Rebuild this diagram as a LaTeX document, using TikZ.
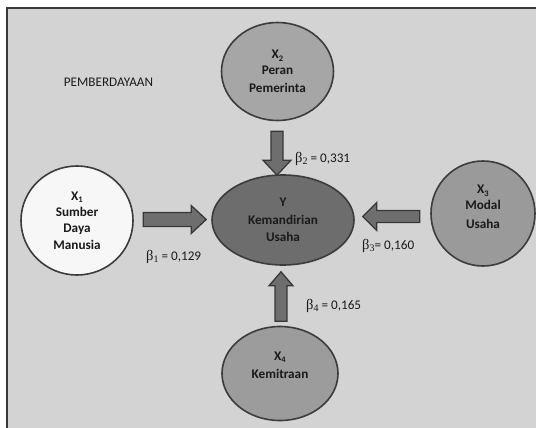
\documentclass[tikz,border=0pt]{standalone}
\usepackage{fontspec}
\setmainfont{Carlito}
\newfontfamily\betafont{Liberation Serif}
\usetikzlibrary{shapes.geometric,calc}
\definecolor{bgc}{HTML}{D3D3D3}
\definecolor{framec}{HTML}{383838}
\definecolor{outl}{HTML}{3C3C3C}
\definecolor{cxa}{HTML}{F7F7F7}
\definecolor{cxb}{HTML}{A6A6A6}
\definecolor{cxc}{HTML}{9A9A9A}
\definecolor{cxd}{HTML}{9C9C9C}
\definecolor{cy}{HTML}{6D6D6D}
\definecolor{arrfill}{HTML}{6E6E6E}
\definecolor{arrline}{HTML}{383838}
\definecolor{txt}{HTML}{1A1A1A}
\newcommand\sbs[1]{\raisebox{-2.5pt}{\fontsize{8.5}{8.5}\selectfont #1}}
\newcommand\betalbl[2]{{\betafont\fontsize{14.5}{15}\selectfont β\raisebox{-2pt}{\fontsize{10}{10}\selectfont #1}}#2}
\tikzset{
  var/.style={ellipse, draw=outl, line width=1.6pt, inner sep=0pt, align=center,
    text=txt, font=\bfseries\fontsize{13.2}{17}\selectfont},
  lbl/.style={inner sep=0pt, text=txt, font=\fontsize{13.2}{15}\selectfont},
  frame/.style={draw=framec, line width=2pt, fill=bgc},
  barrow/.style n args={3}{draw=arrline, fill=arrfill, line width=1.3pt, line join=miter,
    to path={($(\tikztostart)!#1!90:(\tikztotarget)$)
      -- ($($(\tikztotarget)!#3!(\tikztostart)$)!#1!-90:(\tikztostart)$)
      -- ($($(\tikztotarget)!#3!(\tikztostart)$)!#2!-90:(\tikztostart)$)
      -- (\tikztotarget)
      -- ($($(\tikztotarget)!#3!(\tikztostart)$)!#2!90:(\tikztostart)$)
      -- ($($(\tikztotarget)!#3!(\tikztostart)$)!#1!90:(\tikztostart)$)
      -- ($(\tikztostart)!#1!-90:(\tikztotarget)$)
      -- cycle}}
}
\begin{document}
\begin{tikzpicture}[x=1pt,y=-1pt]
\useasboundingbox (0,0) rectangle (536,428);
\begin{scope}
  \clip (0,0) rectangle (536,428);
  \draw[frame] (6.5,8.5) rectangle (560,450);
\end{scope}

\node[lbl] (pem) at (108.5,82) {PEMBERDAYAAN};

\node[var, fill=cxa, minimum width=112, minimum height=109] (x1) at (77,220.5)
  {X\sbs{1}\\[-1pt]Sumber\\[-0.5pt]Daya\\[-0.5pt]Manusia};
\node[var, fill=cxb, minimum width=112, minimum height=98] (x2) at (277.5,71.5)
  {X\sbs{2}\\[-1.5pt]Peran\\[1pt]Pemerinta};
\node[var, fill=cxc, minimum width=104, minimum height=105] (x3) at (483,213.5)
  {X\sbs{3}\\[-1pt]Modal\\[2pt]Usaha\\[-4pt]~};
\node[var, fill=cxd, minimum width=116, minimum height=94] (x4) at (280,373.5)
  {X\sbs{4}\\[1pt]Kemitraan\\~};
\node[var, fill=cy, minimum width=142, minimum height=90] (y) at (283,220)
  {Y\\[0.5pt]Kemandirian\\[0.5pt]Usaha};

\coordinate (a1s) at ($(x1.east)+(9.5,-1)$);
\coordinate (a1e) at ($(y.west)+(-5,-0.5)$);
\coordinate (a2s) at ($(x2.south)+(-0.5,10)$);
\coordinate (a2e) at ($(y.north)+(-6,1)$);
\coordinate (a3s) at ($(x3.west)+(-10.5,3)$);
\coordinate (a3e) at ($(y.east)+(8,-3.5)$);
\coordinate (a4s) at ($(x4.north)+(1,-4.5)$);
\coordinate (a4e) at ($(y.south)+(-2,6)$);

\draw[barrow={7pt}{14pt}{15pt}] (a1s) to (a1e);
\draw[barrow={6pt}{14pt}{15pt}] (a2s) to (a2e);
\draw[barrow={6pt}{14pt}{14pt}] (a3s) to (a3e);
\draw[barrow={6pt}{12pt}{14pt}] (a4s) to (a4e);

\node[lbl, anchor=west] (b1) at (146,257) {\betalbl{1}{ = 0,129}};
\node[lbl, anchor=west] (b2) at (295,159) {\betalbl{2}{ = 0,331}};
\node[lbl, anchor=west] (b3) at (362,246) {\betalbl{3}{= 0,160}};
\node[lbl, anchor=west] (b4) at (306,306) {\betalbl{4}{ = 0,165}};
\end{tikzpicture}
\end{document}
